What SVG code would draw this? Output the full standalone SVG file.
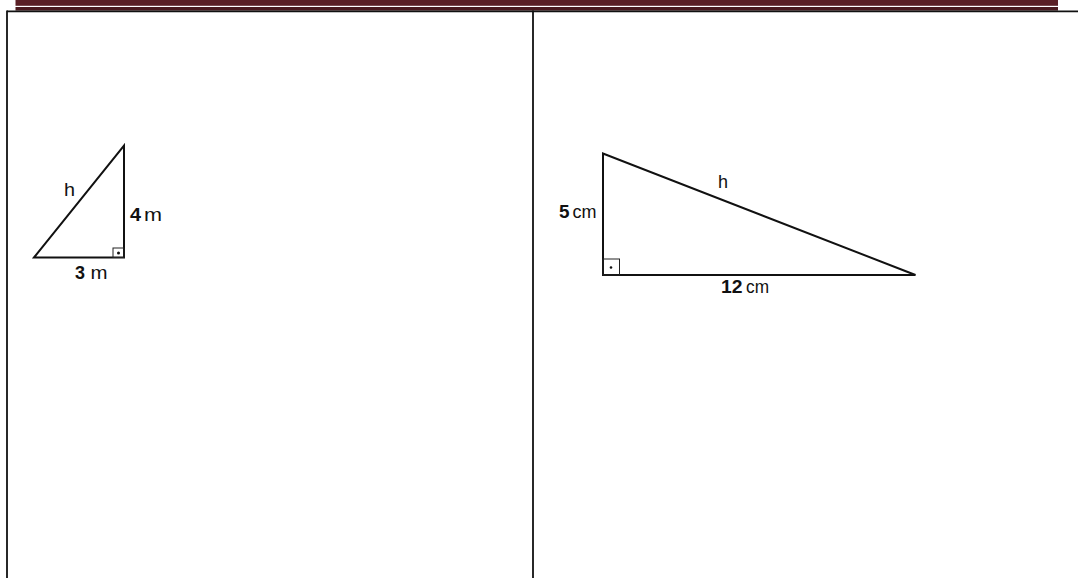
<svg xmlns="http://www.w3.org/2000/svg" width="1078" height="578" viewBox="0 0 1078 578">
<style>
.tri{fill:none;stroke:#111;stroke-width:2;stroke-linejoin:miter}
.box{fill:none;stroke:#222;stroke-width:1}
.frame{stroke:#111;stroke-width:1.8;fill:none}
.t{font-family:"Liberation Sans",Arial,sans-serif;font-size:18px;fill:#111}
.b{font-weight:bold}
</style>
<rect width="1078" height="578" fill="#fff"/>
<g id="header">
<rect x="15.5" y="0" width="1042.5" height="5.8" fill="#5a1f25"/>
<rect x="15.5" y="7" width="1042.5" height="3.6" fill="#4a1a1f"/>
</g>
<g id="frame">
<line class="frame" x1="7" y1="11.4" x2="1078" y2="11.4"/>
<line class="frame" x1="7" y1="10.5" x2="7" y2="578"/>
<line class="frame" x1="533" y1="10.5" x2="533" y2="578"/>
</g>
<g id="triangle-left">
<polygon class="tri" points="34,257.5 124,145.5 124,257.5"/>
<rect class="box" x="113" y="248" width="11" height="9.5"/>
<circle cx="118.5" cy="253" r="1.5" fill="#111"/>
<text class="t" x="64" y="196" textLength="11" lengthAdjust="spacingAndGlyphs">h</text>
<text class="t b" x="130" y="221" textLength="11" lengthAdjust="spacingAndGlyphs">4</text>
<text class="t" x="144" y="221" textLength="18" lengthAdjust="spacingAndGlyphs">m</text>
<text class="t b" x="75" y="279" textLength="10" lengthAdjust="spacingAndGlyphs">3</text>
<text class="t" x="90.5" y="279" textLength="17" lengthAdjust="spacingAndGlyphs">m</text>
</g>
<g id="triangle-right">
<polygon class="tri" points="603,153.5 603,275 915.5,275"/>
<rect class="box" x="603" y="259" width="16.5" height="16"/>
<circle cx="611" cy="267.5" r="1.3" fill="#111"/>
<text class="t" x="718" y="188">h</text>
<text class="t b" x="559" y="218" textLength="10.5" lengthAdjust="spacingAndGlyphs">5</text>
<text class="t" x="572.5" y="218" textLength="24" lengthAdjust="spacingAndGlyphs">cm</text>
<text class="t b" x="721" y="293" textLength="21.5" lengthAdjust="spacingAndGlyphs">12</text>
<text class="t" x="746" y="293" textLength="23" lengthAdjust="spacingAndGlyphs">cm</text>
</g>
</svg>
